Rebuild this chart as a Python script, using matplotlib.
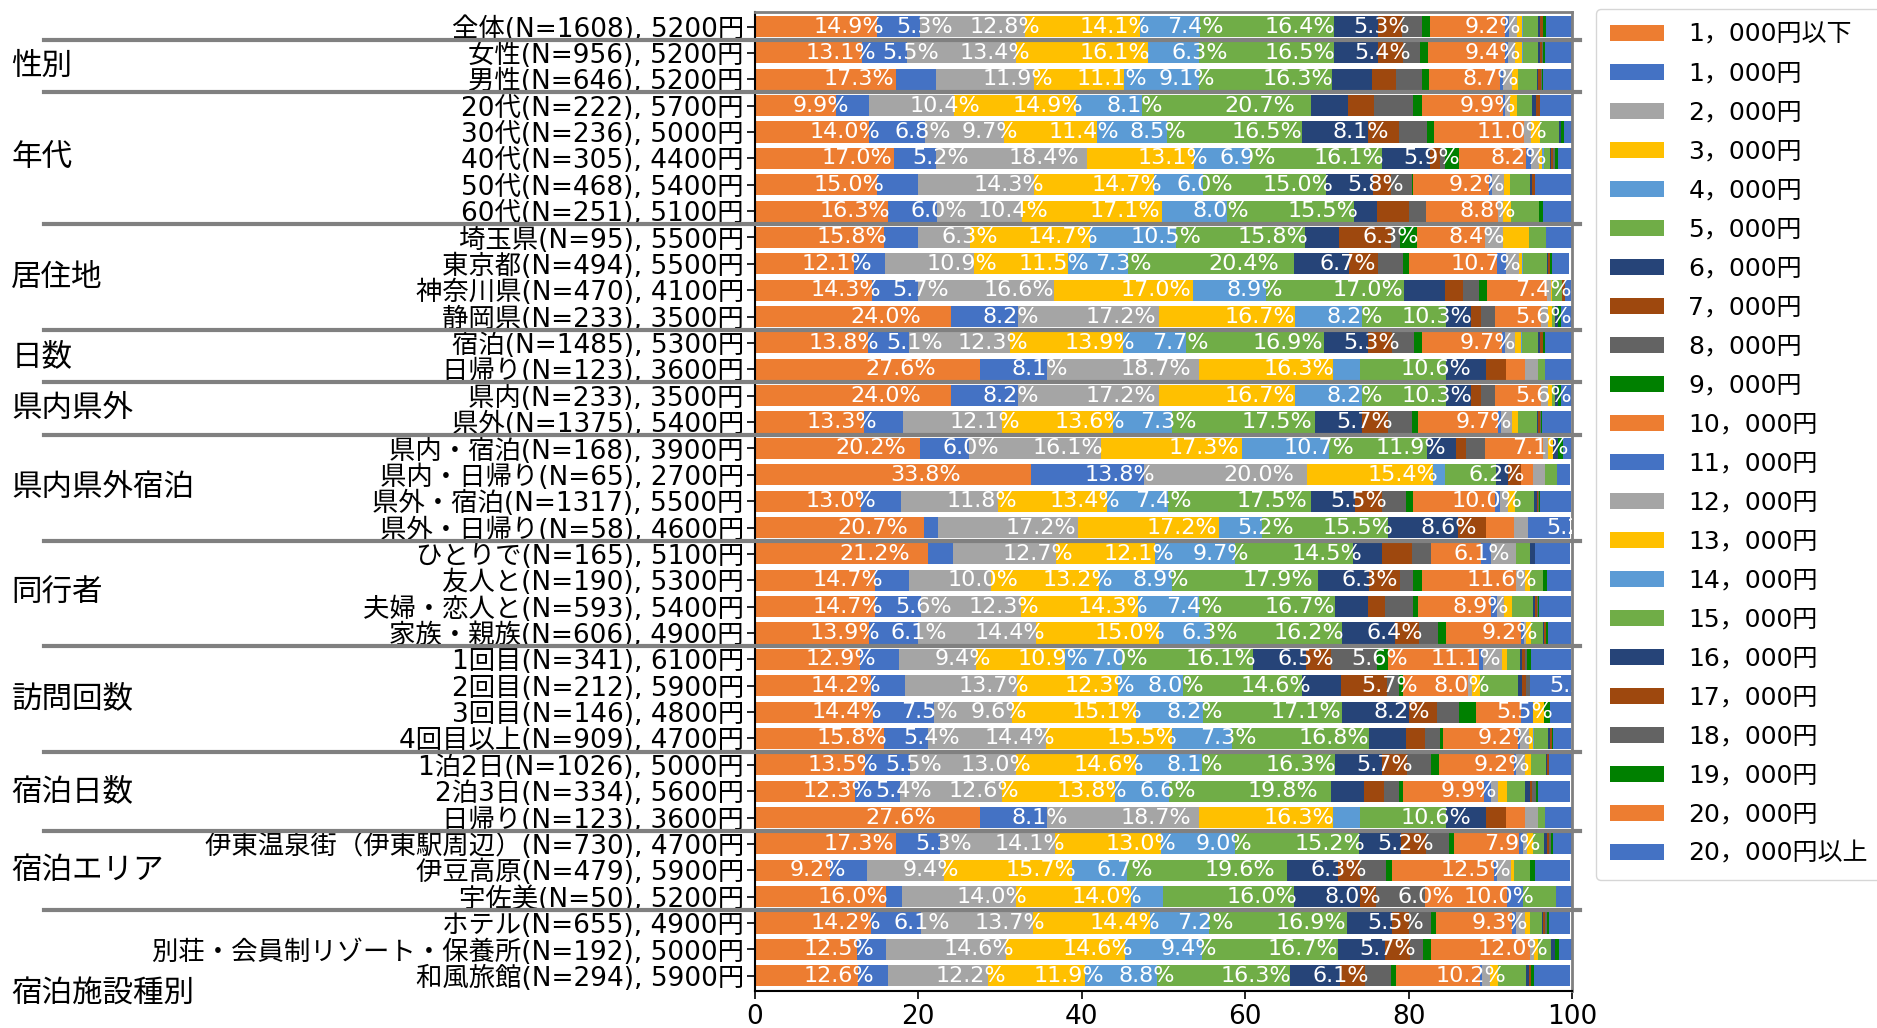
import numpy as np
import matplotlib.pyplot as plt
from matplotlib.transforms import blended_transform_factory

# Latin glyphs from DejaVu, Japanese falls through to Noto Sans CJK
plt.rcParams['font.family'] = ['DejaVu Sans', 'Noto Sans CJK JP']

# price bins (legend order) and their colours
price_bins = ['1，000円以下', '1，000円', '2，000円', '3，000円', '4，000円',
              '5，000円', '6，000円', '7，000円', '8，000円', '9，000円',
              '10，000円', '11，000円', '12，000円', '13，000円', '14，000円',
              '15，000円', '16，000円', '17，000円', '18，000円', '19，000円',
              '20，000円', '20，000円以上']
palette = ['#ED7D31', '#4472C4', '#A5A5A5', '#FFC000', '#5B9BD5',
           '#70AD47', '#264478', '#9E480E', '#636363', '#008000']

# share (%) of each price bin, one list per row, grouped as in the chart
zentai_rows = ['全体(N=1608), 5200円']
zentai = [[14.9, 5.3, 12.8, 14.1, 7.4, 16.4, 5.3, 3.0, 2.5, 0.9, 9.2, 0.5, 1.0, 0.6, 0.1, 1.9, 0.2, 0.3, 0.1, 0.3, 0.0, 3.3]]

seibetsu_rows = ['女性(N=956), 5200円', '男性(N=646), 5200円']
seibetsu = [[13.1, 5.5, 13.4, 16.1, 6.3, 16.5, 5.4, 3.0, 2.1, 1.0, 9.4, 0.4, 0.8, 0.9, 0.1, 1.9, 0.2, 0.2, 0.1, 0.3, 0.0, 3.3],
            [17.3, 4.9, 11.9, 11.1, 9.1, 16.3, 4.9, 2.9, 3.2, 0.9, 8.7, 0.3, 1.1, 0.8, 0.0, 2.3, 0.2, 0.3, 0.1, 0.2, 0.0, 3.5]]

nendai_rows = ['20代(N=222), 5700円', '30代(N=236), 5000円', '40代(N=305), 4400円',
               '50代(N=468), 5400円', '60代(N=251), 5100円']
nendai = [[9.9, 4.1, 10.4, 14.9, 8.1, 20.7, 4.5, 3.2, 4.8, 1.0, 9.9, 0.3, 0.6, 0.9, 0.0, 1.8, 0.5, 0.5, 0.0, 0.0, 0.0, 3.9],
          [14.0, 6.8, 9.7, 11.4, 8.5, 16.5, 8.1, 3.8, 3.4, 0.9, 11.0, 0.0, 0.9, 1.1, 0.0, 2.3, 0.3, 0.0, 0.0, 0.3, 0.0, 1.0],
          [17.0, 5.2, 18.4, 13.1, 6.9, 16.1, 5.9, 1.3, 0.6, 1.7, 8.2, 0.6, 1.0, 0.3, 0.3, 0.7, 0.1, 0.3, 0.2, 0.4, 0.0, 1.7],
          [15.0, 4.9, 14.3, 14.7, 6.0, 15.0, 5.8, 2.2, 2.5, 0.2, 9.2, 0.4, 1.5, 0.7, 0.0, 2.4, 0.3, 0.4, 0.0, 0.0, 0.0, 4.6],
          [16.3, 6.0, 10.4, 17.1, 8.0, 15.5, 2.8, 4.0, 2.0, 0.0, 8.8, 0.0, 0.7, 0.9, 0.0, 3.5, 0.0, 0.0, 0.0, 0.4, 0.0, 3.6]]

kyojuchi_rows = ['埼玉県(N=95), 5500円', '東京都(N=494), 5500円', '神奈川県(N=470), 4100円', '静岡県(N=233), 3500円']
kyojuchi = [[15.8, 4.2, 6.3, 14.7, 10.5, 15.8, 4.2, 6.3, 1.1, 2.1, 8.4, 0.0, 2.1, 3.2, 0.0, 2.1, 0.0, 0.0, 0.0, 0.0, 0.0, 3.2],
            [12.1, 3.8, 10.9, 11.5, 7.3, 20.4, 6.7, 3.6, 3.0, 0.8, 10.7, 1.1, 1.6, 0.4, 0.1, 2.9, 0.2, 0.2, 0.0, 0.2, 0.0, 2.1],
            [14.3, 5.7, 16.6, 17.0, 8.9, 17.0, 4.9, 2.2, 2.0, 1.0, 7.4, 0.0, 0.4, 0.2, 0.0, 1.2, 0.0, 0.3, 0.0, 0.0, 0.0, 0.8],
            [24.0, 8.2, 17.2, 16.7, 8.2, 10.3, 3.0, 1.3, 1.7, 0.0, 5.6, 0.0, 0.9, 0.4, 0.0, 0.4, 0.4, 0.0, 0.0, 0.4, 0.0, 1.3]]

nissu_rows = ['宿泊(N=1485), 5300円', '日帰り(N=123), 3600円']
nissu = [[13.8, 5.1, 12.3, 13.9, 7.7, 16.9, 5.3, 3.0, 2.7, 1.0, 9.7, 0.4, 1.2, 0.8, 0.1, 2.0, 0.2, 0.3, 0.1, 0.2, 0.0, 3.3],
         [27.6, 8.1, 18.7, 16.3, 3.3, 10.6, 4.9, 2.4, 0.0, 0.0, 2.4, 0.0, 1.6, 0.0, 0.0, 0.8, 0.0, 0.0, 0.0, 0.0, 0.0, 3.3]]

kennai_rows = ['県内(N=233), 3500円', '県外(N=1375), 5400円']
kennai = [[24.0, 8.2, 17.2, 16.7, 8.2, 10.3, 3.0, 1.3, 1.7, 0.0, 5.6, 0.0, 0.9, 0.4, 0.0, 0.4, 0.4, 0.0, 0.0, 0.4, 0.0, 1.3],
          [13.3, 4.8, 12.1, 13.6, 7.3, 17.5, 5.7, 3.2, 2.9, 0.8, 9.7, 0.4, 1.3, 0.8, 0.0, 2.3, 0.2, 0.2, 0.1, 0.1, 0.0, 3.6]]

kennai_shuku_rows = ['県内・宿泊(N=168), 3900円', '県内・日帰り(N=65), 2700円',
                     '県外・宿泊(N=1317), 5500円', '県外・日帰り(N=58), 4600円']
kennai_shuku = [[20.2, 6.0, 16.1, 17.3, 10.7, 11.9, 3.6, 1.2, 2.4, 0.0, 7.1, 0.0, 0.6, 0.6, 0.0, 0.0, 0.6, 0.0, 0.0, 0.6, 0.0, 1.2],
                [33.8, 13.8, 20.0, 15.4, 1.5, 6.2, 1.5, 1.5, 0.0, 0.0, 1.5, 0.0, 1.5, 0.0, 0.0, 1.5, 0.0, 0.0, 0.0, 0.0, 0.0, 1.5],
                [13.0, 4.9, 11.8, 13.4, 7.4, 17.5, 5.5, 3.3, 2.9, 0.9, 10.0, 0.6, 1.0, 0.8, 0.0, 2.4, 0.3, 0.2, 0.1, 0.1, 0.0, 3.8],
                [20.7, 1.7, 17.2, 17.2, 5.2, 15.5, 8.6, 3.4, 0.0, 0.0, 3.4, 0.0, 1.7, 0.0, 0.0, 0.0, 0.0, 0.0, 0.0, 0.0, 0.0, 5.2]]

doukou_rows = ['ひとりで(N=165), 5100円', '友人と(N=190), 5300円',
               '夫婦・恋人と(N=593), 5400円', '家族・親族(N=606), 4900円']
doukou = [[21.2, 3.0, 12.7, 12.1, 9.7, 14.5, 3.6, 3.6, 2.4, 0.0, 6.1, 1.2, 3.0, 0.0, 0.0, 1.8, 0.6, 0.0, 0.0, 0.0, 0.0, 4.2],
          [14.7, 4.2, 10.0, 13.2, 8.9, 17.9, 6.3, 3.7, 1.6, 1.1, 11.6, 0.0, 1.1, 0.5, 0.0, 1.6, 0.0, 0.0, 0.0, 0.5, 0.0, 3.2],
          [14.7, 5.6, 12.3, 14.3, 7.4, 16.7, 4.0, 2.1, 3.4, 0.7, 8.9, 0.7, 0.9, 1.0, 0.0, 2.5, 0.3, 0.2, 0.2, 0.1, 0.0, 3.9],
          [13.9, 6.1, 14.4, 15.0, 6.3, 16.2, 6.4, 3.0, 2.3, 1.0, 9.2, 0.3, 0.3, 0.6, 0.0, 1.4, 0.2, 0.2, 0.0, 0.3, 0.0, 2.8]]

houmon_rows = ['1回目(N=341), 6100円', '2回目(N=212), 5900円', '3回目(N=146), 4800円', '4回目以上(N=909), 4700円']
houmon = [[12.9, 4.7, 9.4, 10.9, 7.0, 16.1, 6.5, 3.0, 5.6, 1.4, 11.1, 0.5, 2.3, 0.7, 0.0, 1.5, 0.3, 0.3, 0.3, 0.5, 0.0, 4.9],
          [14.2, 4.2, 13.7, 12.3, 8.0, 14.6, 4.7, 5.7, 1.4, 0.5, 8.0, 0.0, 0.5, 0.9, 0.0, 4.7, 0.5, 0.5, 0.5, 0.0, 0.0, 5.2],
          [14.4, 7.5, 9.6, 15.1, 8.2, 17.1, 8.2, 3.4, 2.7, 2.1, 5.5, 1.4, 0.0, 1.4, 0.0, 0.0, 0.0, 0.0, 0.0, 0.7, 0.0, 2.7],
          [15.8, 5.4, 14.4, 15.5, 7.3, 16.8, 4.5, 2.3, 1.8, 0.4, 9.2, 0.2, 1.1, 0.5, 0.2, 1.7, 0.2, 0.2, 0.1, 0.1, 0.0, 2.2]]

haku_rows = ['1泊2日(N=1026), 5000円', '2泊3日(N=334), 5600円', '日帰り(N=123), 3600円']
haku = [[13.5, 5.5, 13.0, 14.6, 8.1, 16.3, 5.7, 3.1, 2.9, 1.0, 9.2, 0.3, 1.1, 0.7, 0.0, 1.8, 0.1, 0.3, 0.0, 0.0, 0.0, 2.9],
        [12.3, 5.4, 12.6, 13.8, 6.6, 19.8, 4.0, 2.5, 1.8, 0.5, 9.9, 0.9, 0.9, 1.1, 0.0, 2.2, 0.6, 0.2, 0.5, 0.3, 0.0, 3.9],
        [27.6, 8.1, 18.7, 16.3, 3.3, 10.6, 4.9, 2.4, 0.0, 0.0, 2.4, 0.0, 1.6, 0.0, 0.0, 0.8, 0.0, 0.0, 0.0, 0.0, 0.0, 3.3]]

area_rows = ['伊東温泉街（伊東駅周辺）(N=730), 4700円', '伊豆高原(N=479), 5900円', '宇佐美(N=50), 5200円']
area = [[17.3, 5.3, 14.1, 13.0, 9.0, 15.2, 5.2, 3.0, 2.8, 0.7, 7.9, 0.5, 0.5, 0.7, 0.0, 1.4, 0.3, 0.3, 0.2, 0.3, 0.0, 2.3],
        [9.2, 4.5, 9.4, 15.7, 6.7, 19.6, 6.3, 2.7, 3.1, 0.8, 12.5, 0.3, 1.7, 0.4, 0.0, 2.0, 0.0, 0.0, 0.0, 0.6, 0.0, 4.2],
        [16.0, 2.0, 14.0, 14.0, 4.0, 16.0, 8.0, 2.0, 6.0, 0.0, 10.0, 2.0, 0.0, 0.0, 0.0, 4.0, 0.0, 0.0, 0.0, 0.0, 0.0, 2.0]]

shisetsu_rows = ['ホテル(N=655), 4900円', '別荘・会員制リゾート・保養所(N=192), 5000円', '和風旅館(N=294), 5900円']
shisetsu = [[14.2, 6.1, 13.7, 14.4, 7.2, 16.9, 5.5, 2.1, 2.6, 0.7, 9.3, 0.5, 1.1, 0.5, 0.0, 1.5, 0.1, 0.3, 0.3, 0.2, 0.0, 2.5],
            [12.5, 3.6, 14.6, 14.6, 9.4, 16.7, 5.7, 3.1, 1.6, 1.0, 12.0, 0.0, 0.5, 0.5, 0.0, 1.6, 0.5, 0.0, 0.0, 0.5, 0.0, 1.6],
            [12.6, 3.7, 12.2, 11.9, 8.8, 16.3, 6.1, 3.1, 3.1, 0.7, 10.2, 0.3, 1.0, 1.0, 0.0, 3.4, 0.3, 0.3, 0.0, 0.4, 0.0, 4.4]]

groups = [('', zentai_rows, zentai),
          ('性別', seibetsu_rows, seibetsu),
          ('年代', nendai_rows, nendai),
          ('居住地', kyojuchi_rows, kyojuchi),
          ('日数', nissu_rows, nissu),
          ('県内県外', kennai_rows, kennai),
          ('県内県外宿泊', kennai_shuku_rows, kennai_shuku),
          ('同行者', doukou_rows, doukou),
          ('訪問回数', houmon_rows, houmon),
          ('宿泊日数', haku_rows, haku),
          ('宿泊エリア', area_rows, area),
          ('宿泊施設種別', shisetsu_rows, shisetsu)]

labels = [r for g in groups for r in g[1]]
data = np.array([v for g in groups for v in g[2]])
n = len(labels)
y = np.arange(n)
lefts = np.cumsum(data, axis=1) - data

fig = plt.figure(figsize=(18.77, 10.28), dpi=100)
ax = fig.add_axes([0.4022, 0.036, 0.4353, 0.952])

for j, name in enumerate(price_bins):
    ax.barh(y, data[:, j], left=lefts[:, j], height=0.8,
            color=palette[j % len(palette)], label=name)

# percent labels for segments of 5% or more
for i in range(n):
    for j in range(data.shape[1]):
        w = data[i, j]
        if w >= 5:
            ax.text(lefts[i, j] + w / 2 - 0.3, y[i], f'{w:.1f}%', ha='left', va='center',
                    color='white', fontsize=16, clip_on=True)

ax.set_xlim(0, 100)
ax.set_ylim(n - 0.42, -0.54)
ax.set_yticks(y)
ax.set_yticklabels(labels, fontsize=19)
ax.set_xticks([0, 20, 40, 60, 80, 100])
ax.tick_params(axis='x', labelsize=19, length=6, width=1.2)
ax.tick_params(axis='y', length=6, width=1.2, pad=2)
for s in ['left', 'bottom']:
    ax.spines[s].set_linewidth(1.5)
for s in ['top', 'right']:
    ax.spines[s].set_color('#808080')
    ax.spines[s].set_linewidth(2)

# group separators and group names on the far left
trans = blended_transform_factory(ax.transAxes, ax.transData)
start = 0
for gi, (gname, rows, _) in enumerate(groups):
    end = start + len(rows)
    if end < n:
        ax.plot([-0.87, 1.01], [end - 0.5, end - 0.5], transform=trans,
                color='#808080', lw=3, clip_on=False, zorder=5)
    if gname:
        gy = (start + end - 1) / 2
        if gi == len(groups) - 1:
            gy += 1.7  # last group name sits below its rows
        ax.text(-0.91, gy, gname, transform=trans, ha='left', va='center', fontsize=22)
    start = end

ax.legend(loc='upper left', bbox_to_anchor=(1596 / 1877, 1 - 9 / 1028),
          bbox_transform=fig.transFigure, borderaxespad=0, fontsize=18,
          handlelength=2.15, handleheight=0.56, handletextpad=1.0,
          labelspacing=0.6, borderpad=0.55, frameon=True, edgecolor='#cccccc')

fig.savefig('out.png', dpi=100)
